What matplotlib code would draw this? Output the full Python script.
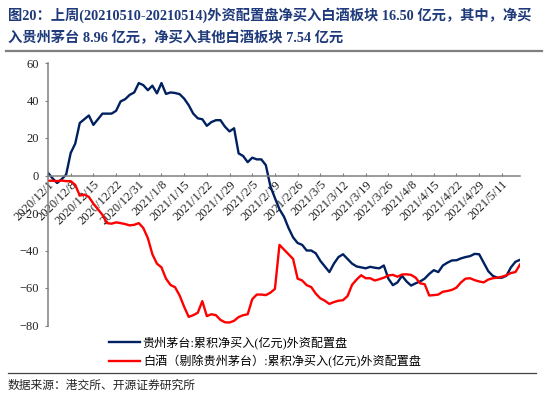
import matplotlib
matplotlib.use('Agg')
import matplotlib.pyplot as plt
from matplotlib.lines import Line2D
from matplotlib.font_manager import FontProperties

# Data, one value per trading day
maotai = [1.4, -1.5, -4, -2, 0.5, 12, 17, 28, 30, 32,
          27, 30, 33, 33, 33, 34.5, 39.5, 40.7, 43, 44.3,
          49.3, 48.2, 45.5, 47.9, 43.8, 49.3, 43.5, 44.3, 44, 43.4,
          41, 37.5, 33, 30.5, 30, 26.5, 28.5, 29.5, 29.5, 26,
          23.5, 25.2, 11.8, 10.4, 7.1, 9.5, 8.6, 8.6, 5.5, -5.7,
          -12, -18, -22, -28, -33, -36, -37, -40, -40, -41.5,
          -45.5, -48.5, -51.5, -47, -43.5, -42, -44.5, -47, -48.5, -49,
          -49.5, -48.7, -49.2, -49.5, -48, -55, -58.5, -57, -53.5, -56.5,
          -58.7, -57.5, -56.5, -55, -52.5, -50.5, -51.5, -48, -46.5, -45.3,
          -45.2, -44.2, -43.5, -43, -41.8, -42, -46.5, -51, -53.5, -54.5,
          -54.5, -53.5, -49, -46, -45]
baijiu_ex = [-2.8, -2.8, -3, -2.7, -3, -3, -5, -10.7, -10.2, -11.4,
             -15, -18, -21, -25.4, -25.7, -25, -25.4, -25.9, -26.6, -26.3,
             -25.4, -28, -33.4, -42, -47, -49, -55, -58.4, -59.6, -64,
             -70, -75.4, -74.5, -73.2, -67, -75, -74, -74.5, -77, -78.3,
             -78.4, -77.5, -75.5, -74.5, -74, -66, -63.5, -63.5, -63.8, -62.5,
             -60.5, -37, -39.5, -42, -44.5, -55, -56, -58.5, -59.5, -63,
             -65.5, -66.8, -68.5, -67.5, -66.8, -66.5, -64.3, -58.3, -55.5, -53.2,
             -54.8, -54.8, -56, -55.3, -54.5, -53.3, -53, -54, -52.8, -52.7,
             -53, -54.5, -57.5, -58, -64, -63.8, -63.5, -62, -61.6, -61,
             -59.8, -57, -55, -54.8, -55.8, -56.5, -57, -55.5, -54.8, -54.5,
             -54, -53.2, -52, -51.5, -47.5]
tick_labels = ['2020/12/1', '2020/12/8', '2020/12/15', '2020/12/22', '2020/12/31',
               '2021/1/8', '2021/1/15', '2021/1/22', '2021/1/29', '2021/2/5',
               '2021/2/19', '2021/2/26', '2021/3/5', '2021/3/12', '2021/3/19',
               '2021/3/26', '2021/4/8', '2021/4/15', '2021/4/22', '2021/4/29',
               '2021/5/11']
series_names = ['贵州茅台:累积净买入(亿元)外资配置盘',
                '白酒（剔除贵州茅台）:累积净买入(亿元)外资配置盘']

mixed = ['Liberation Serif', 'Noto Sans CJK SC', 'DejaVu Sans']
plt.rcParams['font.family'] = mixed

W, H = 550, 398
fig = plt.figure(figsize=(W / 100, H / 100), dpi=100)

# Title
title_color = '#1F3A7A'
fig.text(8 / W, 1 - 15 / H,
         '图20：上周(20210510-20210514)外资配置盘净买入白酒板块 16.50 亿元，其中，净买',
         fontsize=10.3, fontweight='bold', color=title_color, va='center', ha='left')
fig.text(8 / W, 1 - 38 / H,
         '入贵州茅台 8.96 亿元，净买入其他白酒板块 7.54 亿元',
         fontsize=10.3, fontweight='bold', color=title_color, va='center', ha='left')
fig.add_artist(Line2D([6 / W, 542 / W], [1 - 51 / H, 1 - 51 / H],
                      color='#7f7f7f', lw=1.6, transform=fig.transFigure))

# Plot area
ax = fig.add_axes([48 / W, 72.5 / H, 472 / W, 262.5 / H])
x = list(range(len(maotai)))
ax.plot(x, maotai, color='#002060', lw=1.7, label=series_names[0])
ax.plot(x, baijiu_ex, color='#FF0000', lw=1.7, label=series_names[1])

for s in ['top', 'right']:
    ax.spines[s].set_visible(False)
ax.spines['bottom'].set_position(('data', 0))
for s in ['left', 'bottom']:
    ax.spines[s].set_color('#808080')
    ax.spines[s].set_linewidth(1.1)
ax.tick_params(axis='x', direction='in', length=2.5, color='#808080', pad=2)
ax.tick_params(axis='y', direction='out', length=2.5, color='#808080', pad=4)

ax.set_xlim(0, len(maotai) - 1)
ax.set_ylim(-80, 60)
ax.set_yticks(range(-80, 61, 20))
ax.set_xticks(range(0, 5 * len(tick_labels), 5))
ax.set_xticklabels(tick_labels)
for lab in ax.get_xticklabels():
    lab.set_rotation(45)
    lab.set_rotation_mode('anchor')
    lab.set_ha('right')
    lab.set_va('top')
    lab.set_fontsize(9)
    lab.set_color('#222222')
for lab in ax.get_yticklabels():
    lab.set_fontsize(9)
    lab.set_color('#222222')

# Legend
leg = ax.legend(loc='upper left', bbox_to_anchor=(109 / W, 1 - 336 / H),
                bbox_transform=fig.transFigure, frameon=False,
                prop=FontProperties(family=mixed, size=8.7),
                handlelength=2.6, handletextpad=0.2, labelspacing=0.55,
                borderpad=0, borderaxespad=0)

# Source line
fig.add_artist(Line2D([8 / W, 536 / W], [1 - 373 / H, 1 - 373 / H],
                      color='#404040', lw=0.9, transform=fig.transFigure))
fig.text(8 / W, 1 - 386 / H, '数据来源：港交所、开源证券研究所',
         fontsize=8.5, va='center', ha='left', color='#222222')

fig.savefig('out.png', dpi=100)
